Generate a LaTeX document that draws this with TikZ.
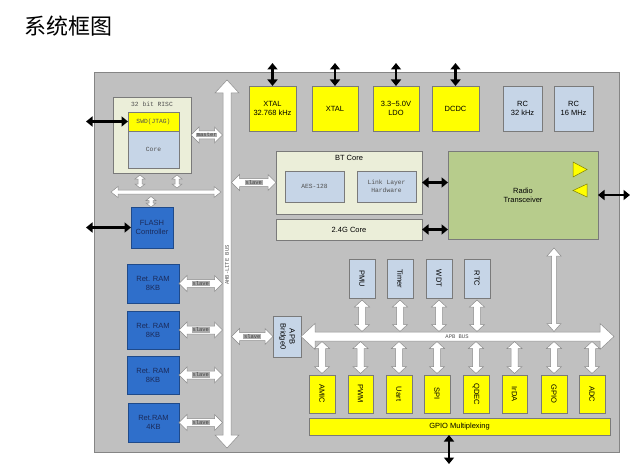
\documentclass[tikz,border=0pt]{standalone}
\usepackage{fontspec}
\setmainfont{Liberation Sans}
\newfontfamily\cjkf{Noto Sans CJK SC}
\newfontfamily\monof{Liberation Mono}
\usetikzlibrary{arrows.meta,calc}
\definecolor{bgc}{HTML}{C0C0C0}
\definecolor{bgbord}{HTML}{858585}
\definecolor{bord}{HTML}{7A7A7A}
\definecolor{yel}{HTML}{FFFF00}
\definecolor{lblue}{HTML}{C6D5E7}
\definecolor{beige}{HTML}{EBEED9}
\definecolor{ramblue}{HTML}{2F6FCB}
\definecolor{rambord}{HTML}{1F4A8A}
\definecolor{ramtext}{HTML}{1B2B5B}
\definecolor{grn}{HTML}{B7CC8C}
\definecolor{labgray}{HTML}{ABABAB}
\definecolor{fatbord}{HTML}{8C8C8C}
\definecolor{sertxt}{HTML}{505050}
\tikzset{
  box/.style={draw=bord, line width=0.6pt, inner sep=0pt, outer sep=0pt, align=center,
    font=\fontsize{7.5}{9}\selectfont, text=black},
  ybox/.style={box, fill=yel},
  lbox/.style={box, fill=lblue},
  bbox/.style={box, fill=beige},
  rbox/.style={box, fill=ramblue, draw=rambord, text=ramtext},
  gbox/.style={box, fill=grn},
  blk/.style={line width=2.6pt, {Triangle[length=6.5pt,width=10pt]}-{Triangle[length=6.5pt,width=10pt]}},
  fatstyle/.style={fill=white, draw=fatbord, line width=0.5pt, line join=miter},
  lab/.style={fill=labgray, inner sep=0.6pt, font=\monof\fontsize{5.5}{6}\selectfont, text=black!75},
  sert/.style={font=\monof\fontsize{6.3}{8.5}\selectfont, text=sertxt, align=center},
}
% box: name, style, x1, y1, x2, y2, text
\newcommand\bx[7]{\node[#2,anchor=north west,minimum width={(#5-#3)*1pt},minimum height={(#6-#4)*1pt}] (#1) at (#3,#4) {#7};}
% fat double arrow: from, to, shaft half, head half, head length
\newcommand\fatarr[5]{\path[fatstyle] let \p1=#1, \p2=#2, \n1={veclen(\x2-\x1,\y2-\y1)}, \n2={atan2(\y2-\y1,\x2-\x1)} in
  [shift={(\p1)},rotate=\n2] (0,0) -- (#5,#4) -- (#5,#3) -- ({\n1-#5},#3) -- ({\n1-#5},#4) -- (\n1,0)
  -- ({\n1-#5},-#4) -- ({\n1-#5},-#3) -- (#5,-#3) -- (#5,-#4) -- cycle;}
\newcommand\rot[1]{\rotatebox{-90}{#1}}
\begin{document}
\begin{tikzpicture}[x=1pt,y=-1pt]
\useasboundingbox (0,0) rectangle (644,465);
\node[anchor=west, font=\cjkf\fontsize{22}{24}\selectfont] (title) at (21,26) {系统框图};
\draw[fill=bgc, draw=bgbord, line width=0.8pt] (94,72) rectangle (619,452);

% coordinates for buses
\coordinate (ahbT) at (227,80);
\coordinate (ahbB) at (227,448);
\coordinate (ahbl) at (222.5,0);
\coordinate (ahbr) at (231.5,0);
\coordinate (apbend) at (614,0);
\coordinate (apbtop) at (0,331.5);
\coordinate (apbbot) at (0,341.5);

% AHB bus
\fatarr{(ahbT)}{(ahbB)}{4}{12}{13}
\node[sert, font=\monof\fontsize{5.5}{6}\selectfont, rotate=90] (ahblab) at (227,265) {AHB-LITE BUS};

% RISC
\bx{risc}{bbox}{113}{97}{191}{173}{}
\node[sert] (risct) at (152,104) {32 bit RISC};
\bx{swd}{ybox,sert}{128}{112}{179}{131}{SWD(JTAG)}
\bx{core}{lbox,sert}{128}{131}{179}{168}{Core}

% FLASH
\bx{flash}{rbox}{131}{207}{173}{248}{FLASH\\Controller}

% RAMs
\bx{ram1}{rbox}{127}{264}{179}{303}{Ret. RAM\\8KB}
\bx{ram2}{rbox}{127}{311}{179}{349}{Ret. RAM\\8KB}
\bx{ram3}{rbox}{127}{356}{179}{394}{Ret. RAM\\8KB}
\bx{ram4}{rbox}{128}{403}{179}{442}{Ret.RAM\\4KB}

% top row
\bx{xtal1}{ybox}{249}{86}{296}{131}{XTAL\\32.768 kHz}
\bx{xtal2}{ybox}{312}{86}{358}{131}{XTAL}
\bx{ldo}{ybox}{373}{86}{419}{131}{3.3\textasciitilde5.0V\\LDO}
\bx{dcdc}{ybox}{432}{86}{479}{131}{DCDC}
\bx{rc1}{lbox}{503}{86}{542}{131}{RC\\32 kHz}
\bx{rc2}{lbox}{554}{86}{593}{131}{RC\\16 MHz}

% BT core
\bx{bt}{bbox}{276}{151}{422}{214}{}
\node[font=\fontsize{7.5}{9}\selectfont] (btt) at (349,158) {BT Core};
\bx{aes}{lbox,sert}{285}{171}{344}{202}{AES-128}
\bx{llh}{lbox,sert}{357}{171}{416}{202}{Link Layer\\Hardware}
\bx{c24}{bbox}{276}{219}{422}{240}{2.4G Core}

% radio
\bx{radio}{gbox}{448}{151}{598}{239}{Radio\\Transceiver}
\draw[fill=yel, draw=black!50!yel, line width=0.5pt] (573,162) -- (587,169.5) -- (573,177) -- cycle;
\draw[fill=yel, draw=black!50!yel, line width=0.5pt] (587,184) -- (573,190.5) -- (587,197) -- cycle;

% APB bridge
\bx{apb}{lbox}{273}{316}{301}{357}{\rot{\begin{tabular}{@{}c@{}}APB\\Bridge0\end{tabular}}}

% APB peripherals top
\bx{pmu}{lbox}{349}{259}{375}{298}{\rot{PMU}}
\bx{timer}{lbox}{387}{259}{413}{298}{\rot{Timer}}
\bx{wdt}{lbox}{426}{259}{452}{298}{\rot{WDT}}
\bx{rtc}{lbox}{464}{259}{490}{298}{\rot{RTC}}

% bottom peripherals
\bx{amic}{ybox}{309}{375}{335}{413}{\rot{AMIC}}
\bx{pwm}{ybox}{348}{375}{373}{413}{\rot{PWM}}
\bx{uart}{ybox}{386}{375}{412}{413}{\rot{Uart}}
\bx{spi}{ybox}{424}{375}{450}{413}{\rot{SPI}}
\bx{qdec}{ybox}{463}{375}{489}{413}{\rot{QDEC}}
\bx{irda}{ybox}{502}{375}{527}{413}{\rot{IrDA}}
\bx{gpio}{ybox}{541}{375}{567}{413}{\rot{GPIO}}
\bx{adc}{ybox}{579}{375}{605}{413}{\rot{ADC}}
\bx{gmux}{ybox}{309}{418}{610}{435}{GPIO Multiplexing}

% APB bus
\fatarr{(apb.east)}{(apb.east -| apbend)}{4.5}{13}{14}
\node[sert, font=\monof\fontsize{5.5}{6}\selectfont] (apblab) at (457,337) {APB BUS};

% master / slave arrows
\fatarr{(risc.east)}{(risc.east -| ahbl)}{4}{8}{8}
\node[lab] (mlab) at ($(risc.east)!0.5!(risc.east -| ahbl)$) {master};
\fatarr{(bt.west)}{(bt.west -| ahbr)}{4}{8}{8}
\node[lab] (slbt) at ($(bt.west)!0.5!(bt.west -| ahbr)$) {slave};
\foreach \rr in {ram1,ram2,ram3,ram4}{
  \fatarr{(\rr.east)}{(\rr.east -| ahbl)}{4}{8}{8}
  \node[lab] (sl\rr) at ($(\rr.east)!0.5!(\rr.east -| ahbl)$) {slave};
}
\fatarr{(apb.west)}{(apb.west -| ahbr)}{4}{8}{8}
\node[lab] (slapb) at ($(apb.west)!0.5!(apb.west -| ahbr)$) {slave};

% RISC local bus
\coordinate (lb1) at (111,192);
\coordinate (lb2) at (221,192);
\fatarr{(lb1)}{(lb2)}{2}{5.5}{7}
\coordinate (sv1) at (140,175);
\coordinate (sv2) at (177,175);
\coordinate (sv3) at (151,196.5);
\fatarr{(sv1)}{($(sv1)+(0,13)$)}{2}{5}{4}
\fatarr{(sv2)}{($(sv2)+(0,13)$)}{2}{5}{4}
\fatarr{(sv3)}{(sv3 |- flash.north)}{2}{5}{4}

% peripheral arrows
\foreach \qq in {pmu,timer,wdt,rtc}{
  \fatarr{($(\qq.south)+(0,2)$)}{(\qq.south |- apbtop)}{3.5}{7.5}{7}
}
\foreach \qq in {amic,pwm,uart,spi,qdec,irda,gpio,adc}{
  \fatarr{($(\qq.north)+(0,-1.5)$)}{(\qq.north |- apbbot)}{3.5}{7.5}{7}
}
\coordinate (rdtop) at (554,248);
\fatarr{(rdtop)}{(rdtop |- apbtop)}{2.5}{7}{8}

% black arrows
\coordinate (swdext) at (86,0);
\draw[blk] (swdext |- swd.west) -- (swd.west);
\draw[blk] (swdext |- flash.west) -- (flash.west);
\foreach \tt in {xtal1,xtal2,ldo,dcdc}{
  \draw[blk] ($(\tt.north)+(0,-23)$) -- (\tt.north);
}
\draw[blk] (bt.east) -- (bt.east -| radio.west);
\draw[blk] (c24.east) -- (c24.east -| radio.west);
\coordinate (radext) at (630,0);
\draw[blk] (radio.east) -- (radio.east -| radext);
\coordinate (muxout) at (449,464);
\draw[blk] (muxout |- gmux.south) -- (muxout);
\end{tikzpicture}
\end{document}
